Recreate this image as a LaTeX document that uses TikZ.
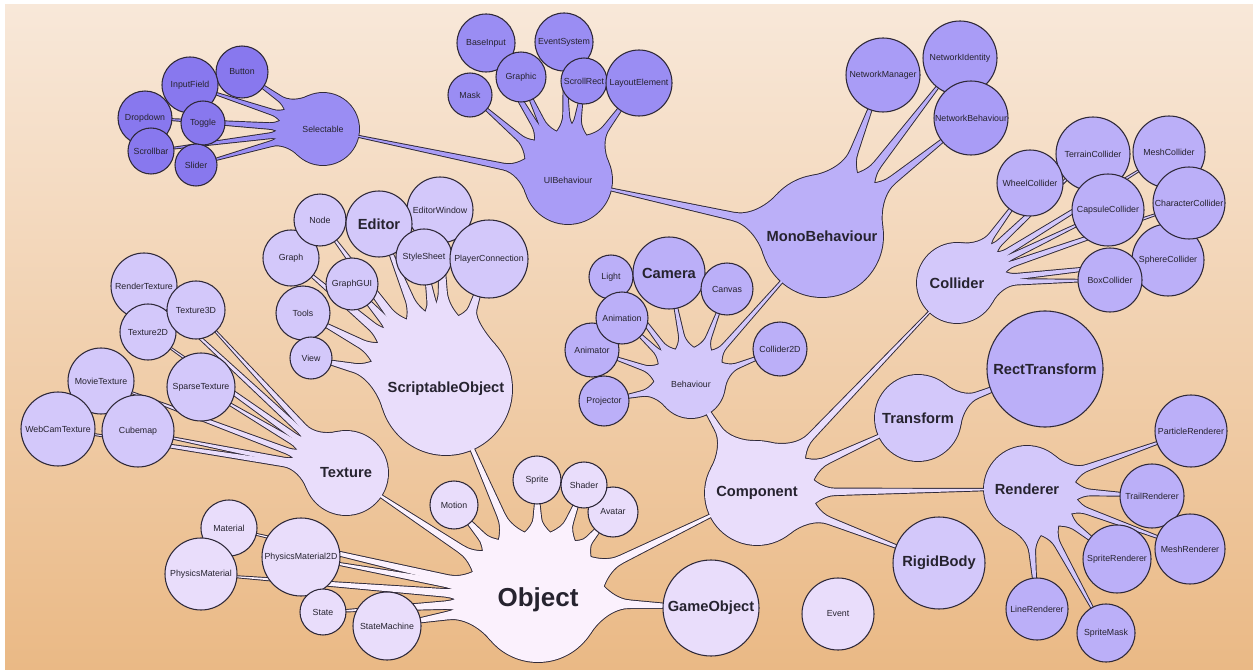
\documentclass[tikz,border=0pt]{standalone}
\usepackage{fontspec}
\setmainfont{Liberation Sans}
\usetikzlibrary{calc}

\pgfdeclarelayer{bg}
\pgfdeclarelayer{tentstroke}
\pgfdeclarelayer{tentfill}
\pgfsetlayers{bg,tentstroke,tentfill,main}

% class colours, from the root outwards
\definecolor{c0}{HTML}{FBF1FD}
\definecolor{c1}{HTML}{E9DDFB}
\definecolor{c2}{HTML}{D3C8FA}
\definecolor{c3}{HTML}{BBAFF8}
\definecolor{c4}{HTML}{A99CF6}
\definecolor{c5}{HTML}{9A8DF3}
\definecolor{c6}{HTML}{8878EE}
\definecolor{edge}{HTML}{2E2838}
\definecolor{ink}{HTML}{26232F}
\definecolor{bgtop}{HTML}{F8E8D9}
\definecolor{bgbot}{HTML}{EAB985}

\newcommand\fsmall{\fontsize{6.6}{7.5}\selectfont}
\newcommand\fbig{\fontsize{11}{13}\selectfont\bfseries}
\newcommand\fhuge{\fontsize{19.5}{22}\selectfont\bfseries}
\newcommand\lb[1]{\makebox[0pt]{#1}}

\tikzset{
  ball/.style={circle, inner sep=0pt, outer sep=0pt, minimum size=#1*1.5pt,
               text=ink, font=\fsmall},
  hub/.style={ball=#1},
  leaf/.style={ball=#1, draw=edge, line width=0.8pt},
  big/.style={font=\fbig},
  tstroke/.style={draw=edge, line width=1.4pt},
}

% tapered branch from a parent disc (#1) to a child disc (#2);
% the let-values below already carry their pt unit
\newcommand\tentdraw[3]{%
  \path[#3, line join=round] let
    \p1=(#1.center), \p2=(#2.center), \p3=(#1.east), \p4=(#2.east),
    \n{a}={atan2(\y2-\y1,\x2-\x1)},
    \n{R}={\x3-\x1},
    \n{D}={veclen(\x2-\x1,\y2-\y1)},
    \n{r}={\x4-\x2},
    \n{N}={min(1.5*\n{R},\n{R}+0.6*(\n{D}-\n{R}-\n{r}))},
    \n{f}={\n{N}-\n{R}},
    \n{w}={0.05*\n{R}+0.5pt},
    \n{k}={0.55*\n{f}},
    \n{h}={\n{N}-0.5*\n{f}}
  in
    ($(\p1)+(\n{a}+30:\n{R})$)
    .. controls +(\n{a}-60:\n{k}) and ($(\p1)+(\n{a}:\n{h})+(\n{a}+90:\n{w})$)
    .. ($(\p1)+(\n{a}:\n{N})+(\n{a}+90:\n{w})$)
    -- (\p2)
    -- ($(\p1)+(\n{a}:\n{N})+(\n{a}-90:\n{w})$)
    .. controls ($(\p1)+(\n{a}:\n{h})+(\n{a}-90:\n{w})$) and ($(\p1)+(\n{a}-30:\n{R})+(\n{a}+60:\n{k})$)
    .. ($(\p1)+(\n{a}-30:\n{R})$)
    -- cycle;
}
\newcommand\hubring[1]{%
  \path[tstroke] let \p1=(#1.center), \p2=(#1.east) in (\p1) circle[radius=\x2-\x1];}
\newcommand\hubgroup[3]{%
  \begin{pgfonlayer}{tentstroke}
    \hubring{#1}
    \foreach \ch in {#3}{\tentdraw{#1}{\ch}{tstroke}}
  \end{pgfonlayer}
  \begin{pgfonlayer}{tentfill}
    \foreach \ch in {#3}{\tentdraw{#1}{\ch}{fill=#2}}
  \end{pgfonlayer}
}

\begin{document}
\begin{tikzpicture}[x=0.75pt, y=-0.75pt]
\useasboundingbox (0,0) rectangle (1253,670);
\begin{pgfonlayer}{bg}
  \fill[white] (0,0) rectangle (1253,670);
  \shade[top color=bgtop, bottom color=bgbot] (5,5) rectangle (1253,670);
\end{pgfonlayer}

% ---- hubs (outline comes from the branch layer) ----
\node[hub=62, fill=c0, font=\fhuge] (Object) at (538,600) {\lb{Object}};
\node[hub=42, fill=c1, big] (Texture) at (346,473) {\lb{Texture}};
\node[hub=66, fill=c1, big] (ScriptableObject) at (446,389) {\lb{ScriptableObject}};
\node[hub=52, fill=c1, big] (Component) at (757,493) {\lb{Component}};
\node[hub=34, fill=c2] (Behaviour) at (691,384) {\lb{Behaviour}};
\node[hub=40, fill=c2, big] (Collider) at (957,283) {\lb{Collider}};
\node[hub=43, fill=c2, big] (Transform) at (918,418) {\lb{Transform}};
\node[hub=43, fill=c2, big] (Renderer) at (1027,489) {\lb{Renderer}};
\node[hub=61, fill=c3, big] (MonoBehaviour) at (822,236) {\lb{MonoBehaviour}};
\node[hub=44, fill=c4] (UIBehaviour) at (568,180) {\lb{UIBehaviour}};
\node[hub=36, fill=c5] (Selectable) at (323,129) {\lb{Selectable}};

% ---- leaves under Object ----
\node[leaf=48, fill=c1, big] (GameObject) at (711,608) {\lb{GameObject}};
\node[leaf=36, fill=c1] (Event) at (838,614) {\lb{Event}};
\node[leaf=24, fill=c1] (Motion) at (454,505) {\lb{Motion}};
\node[leaf=24, fill=c1] (Sprite) at (537,480) {\lb{Sprite}};
\node[leaf=25, fill=c1] (Avatar) at (613,512) {\lb{Avatar}};
\node[leaf=23, fill=c1] (Shader) at (584,485) {\lb{Shader}};
\node[leaf=28, fill=c1] (Material) at (229,528) {\lb{Material}};
\node[leaf=36, fill=c1] (PhysicsMaterial) at (201,574) {\lb{PhysicsMaterial}};
\node[leaf=39, fill=c1] (PhysicsMaterial2D) at (301,557) {\lb{PhysicsMaterial2D}};
\node[leaf=23, fill=c1] (State) at (323,612) {\lb{State}};
\node[leaf=34, fill=c1] (StateMachine) at (387,626) {\lb{StateMachine}};

% ---- Texture family ----
\node[leaf=33, fill=c2] (RenderTexture) at (144,286) {\lb{RenderTexture}};
\node[leaf=28, fill=c2] (Texture2D) at (148,332) {\lb{Texture2D}};
\node[leaf=29, fill=c2] (Texture3D) at (196,310) {\lb{Texture3D}};
\node[leaf=33, fill=c2] (MovieTexture) at (101,381) {\lb{MovieTexture}};
\node[leaf=37, fill=c2] (WebCamTexture) at (58,429) {\lb{WebCamTexture}};
\node[leaf=36, fill=c2] (Cubemap) at (138,431) {\lb{Cubemap}};
\node[leaf=34, fill=c2] (SparseTexture) at (201,387) {\lb{SparseTexture}};

% ---- ScriptableObject family ----
\node[leaf=28, fill=c2] (Graph) at (291,258) {\lb{Graph}};
\node[leaf=26, fill=c2] (Node) at (320,220) {\lb{Node}};
\node[leaf=33, fill=c2] (EditorWindow) at (440,210) {\lb{EditorWindow}};
\node[leaf=33, fill=c2, big] (Editor) at (379,224) {\lb{Editor}};
\node[leaf=28, fill=c2] (StyleSheet) at (424,257) {\lb{StyleSheet}};
\node[leaf=39, fill=c2] (PlayerConnection) at (489,259) {\lb{PlayerConnection}};
\node[leaf=26, fill=c2] (GraphGUI) at (352,284) {\lb{GraphGUI}};
\node[leaf=27, fill=c2] (Tools) at (303,313) {\lb{Tools}};
\node[leaf=21, fill=c2] (View) at (311,358) {\lb{View}};

% ---- Component family ----
\node[leaf=46, fill=c2, big] (RigidBody) at (939,563) {\lb{RigidBody}};
\node[leaf=58, fill=c3, big] (RectTransform) at (1045,369) {\lb{RectTransform}};

\node[leaf=22, fill=c3] (Light) at (611,277) {\lb{Light}};
\node[leaf=36, fill=c3, big] (Camera) at (669,273) {\lb{Camera}};
\node[leaf=26, fill=c3] (Canvas) at (727,289) {\lb{Canvas}};
\node[leaf=27, fill=c3] (Animator) at (592,350) {\lb{Animator}};
\node[leaf=26, fill=c3] (Animation) at (622,318) {\lb{Animation}};
\node[leaf=25, fill=c3] (Projector) at (604,401) {\lb{Projector}};
\node[leaf=27, fill=c3] (Collider2D) at (780,349) {\lb{Collider2D}};

\node[leaf=37, fill=c3] (TerrainCollider) at (1093,154) {\lb{TerrainCollider}};
\node[leaf=36, fill=c3] (MeshCollider) at (1169,152) {\lb{MeshCollider}};
\node[leaf=36, fill=c3] (SphereCollider) at (1168,260) {\lb{SphereCollider}};
\node[leaf=33, fill=c3] (WheelCollider) at (1030,183) {\lb{WheelCollider}};
\node[leaf=36, fill=c3] (CapsuleCollider) at (1108,210) {\lb{CapsuleCollider}};
\node[leaf=36, fill=c3] (CharacterCollider) at (1189,203) {\lb{CharacterCollider}};
\node[leaf=32, fill=c3] (BoxCollider) at (1110,280) {\lb{BoxCollider}};

\node[leaf=36, fill=c3] (ParticleRenderer) at (1191,431) {\lb{ParticleRenderer}};
\node[leaf=32, fill=c3] (TrailRenderer) at (1152,496) {\lb{TrailRenderer}};
\node[leaf=35, fill=c3] (MeshRenderer) at (1190,549) {\lb{MeshRenderer}};
\node[leaf=34, fill=c3] (SpriteRenderer) at (1117,559) {\lb{SpriteRenderer}};
\node[leaf=31, fill=c3] (LineRenderer) at (1037,609) {\lb{LineRenderer}};
\node[leaf=29, fill=c3] (SpriteMask) at (1106,633) {\lb{SpriteMask}};

% ---- MonoBehaviour family ----
\node[leaf=37, fill=c4] (NetworkManager) at (883,75) {\lb{NetworkManager}};
\node[leaf=37, fill=c4] (NetworkIdentity) at (960,58) {\lb{NetworkIdentity}};
\node[leaf=37, fill=c4] (NetworkBehaviour) at (971,118) {\lb{NetworkBehaviour}};

\node[leaf=29, fill=c5] (BaseInput) at (486,43) {\lb{BaseInput}};
\node[leaf=29, fill=c5] (EventSystem) at (564,42) {\lb{EventSystem}};
\node[leaf=22, fill=c5] (Mask) at (470,95) {\lb{Mask}};
\node[leaf=25, fill=c5] (Graphic) at (521,77) {\lb{Graphic}};
\node[leaf=23, fill=c5] (ScrollRect) at (584,81) {\lb{ScrollRect}};
\node[leaf=33, fill=c5] (LayoutElement) at (639,83) {\lb{LayoutElement}};

\node[leaf=26, fill=c6] (Button) at (242,72) {\lb{Button}};
\node[leaf=28, fill=c6] (InputField) at (190,85) {\lb{InputField}};
\node[leaf=27, fill=c6] (Dropdown) at (145,118) {\lb{Dropdown}};
\node[leaf=23, fill=c6] (Scrollbar) at (151,151) {\lb{Scrollbar}};
\node[leaf=22, fill=c6] (Toggle) at (203,123) {\lb{Toggle}};
\node[leaf=21, fill=c6] (Slider) at (196,165) {\lb{Slider}};

% ---- branches ----
\hubgroup{Object}{c0}{Texture,ScriptableObject,Motion,Sprite,Shader,Avatar,Component,GameObject,Material,PhysicsMaterial,PhysicsMaterial2D,State,StateMachine}
\hubgroup{Texture}{c1}{RenderTexture,Texture3D,Texture2D,MovieTexture,WebCamTexture,Cubemap,SparseTexture}
\hubgroup{ScriptableObject}{c1}{Node,Editor,EditorWindow,Graph,StyleSheet,PlayerConnection,GraphGUI,Tools,View}
\hubgroup{Component}{c1}{Behaviour,Collider,Transform,Renderer,RigidBody}
\hubgroup{Behaviour}{c2}{Light,Camera,Canvas,Animation,Animator,Projector,Collider2D,MonoBehaviour}
\hubgroup{MonoBehaviour}{c3}{NetworkManager,NetworkIdentity,NetworkBehaviour,UIBehaviour}
\hubgroup{UIBehaviour}{c4}{Mask,Graphic,BaseInput,EventSystem,ScrollRect,LayoutElement,Selectable}
\hubgroup{Selectable}{c5}{Button,InputField,Dropdown,Toggle,Scrollbar,Slider}
\hubgroup{Collider}{c2}{WheelCollider,TerrainCollider,MeshCollider,CapsuleCollider,CharacterCollider,SphereCollider,BoxCollider}
\hubgroup{Transform}{c2}{RectTransform}
\hubgroup{Renderer}{c2}{ParticleRenderer,TrailRenderer,MeshRenderer,SpriteRenderer,LineRenderer,SpriteMask}
\end{tikzpicture}
\end{document}
